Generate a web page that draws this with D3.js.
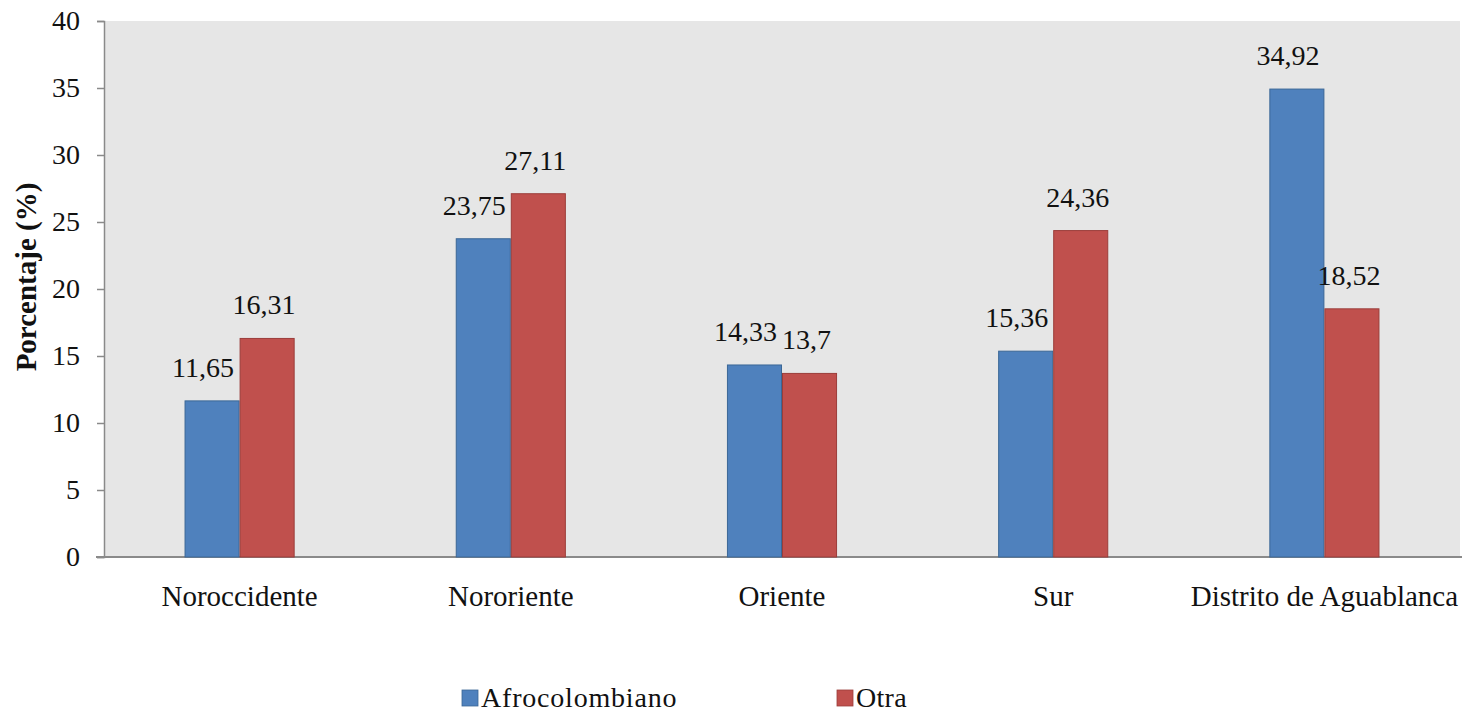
<!DOCTYPE html>
<html>
<head>
<meta charset="utf-8">
<script src="https://cdn.jsdelivr.net/npm/d3@7"></script>
<style>
  html, body { margin: 0; padding: 0; background: #ffffff; }
  svg { display: block; }
  svg text { font-family: "Liberation Serif", Tinos, "Times New Roman", Times, "DejaVu Serif", "Noto Serif", serif; fill: #111; }
</style>
</head>
<body>
<svg id="chart" width="1466" height="712"></svg>
<script>
const categories = ["Noroccidente", "Nororiente", "Oriente", "Sur", "Distrito de Aguablanca"];
const seriesNames = ["Afrocolombiano", "Otra"];
const afroValues = [11.65, 23.75, 14.33, 15.36, 34.92];
const otraValues = [16.31, 27.11, 13.7, 24.36, 18.52];
const yTicks = [0, 5, 10, 15, 20, 25, 30, 35, 40];
const colors = ["#4F81BD", "#C0504D"];
const strokes = ["#3B6796", "#9B3D3A"];
const FONT = '"Liberation Serif", Tinos, "Times New Roman", Times, "DejaVu Serif", "Noto Serif", serif';

const svg = d3.select("#chart");
const plot = { left: 104, right: 1460, top: 21, bottom: 557 };

const x0 = d3.scaleBand().domain(categories).range([plot.left, plot.right])
  .paddingInner(0.594).paddingOuter(0.297);
const x1 = d3.scaleBand().domain(seriesNames).range([0, x0.bandwidth()]).padding(0);
const y = d3.scaleLinear().domain([0, 40]).range([plot.bottom, plot.top]);

svg.append("rect")
  .attr("x", plot.left).attr("y", plot.top)
  .attr("width", plot.right - plot.left).attr("height", plot.bottom - plot.top)
  .attr("fill", "#E6E6E6");

const yAxis = d3.axisLeft(y).tickValues(yTicks).tickSize(7).tickPadding(17).tickFormat(d3.format("d"));
const gy = svg.append("g").attr("transform", `translate(${plot.left},0)`).call(yAxis)
  .attr("font-family", FONT);
gy.select(".domain").attr("stroke", "#8A8A8A").attr("stroke-width", 1.5);
gy.selectAll(".tick line").attr("stroke", "#8A8A8A").attr("stroke-width", 1.5);
gy.selectAll(".tick text").attr("font-size", 28).attr("fill", "#111");

const xAxis = d3.axisBottom(x0).tickSize(0).tickPadding(28);
const gx = svg.append("g").attr("transform", `translate(0,${plot.bottom})`).call(xAxis)
  .attr("font-family", FONT);
gx.select(".domain").attr("stroke", "#8A8A8A").attr("stroke-width", 2).attr("d", `M${plot.left - 8},0H${plot.right + 2}`);
gx.selectAll(".tick text").attr("font-size", 29).attr("fill", "#111").attr("dy", "0.71em");

const data = categories.map((c, i) => ({ cat: c, vals: [afroValues[i], otraValues[i]] }));
const groups = svg.append("g").attr("font-family", FONT).selectAll("g").data(data).join("g")
  .attr("transform", d => `translate(${x0(d.cat)},0)`);

const fmt = v => String(v).replace(".", ",");
const labelShift = [-9, -3];

groups.each(function(d) {
  const g = d3.select(this);
  d.vals.forEach((v, si) => {
    const bx = x1(seriesNames[si]);
    g.append("rect")
      .attr("x", bx + 0.5).attr("y", y(v))
      .attr("width", x1.bandwidth() - 1).attr("height", y(0) - y(v))
      .attr("fill", colors[si]).attr("stroke", strokes[si]).attr("stroke-width", 1);
    g.append("text")
      .attr("x", bx + x1.bandwidth() / 2 + labelShift[si])
      .attr("y", y(v) - 24)
      .attr("text-anchor", "middle")
      .attr("font-size", 28)
      .text(fmt(v));
  });
});

svg.append("text")
  .attr("transform", `translate(36,${(plot.top + plot.bottom) / 2 - 12}) rotate(-90)`)
  .attr("text-anchor", "middle")
  .attr("font-size", 29)
  .attr("font-weight", "bold")
  .attr("font-family", FONT)
  .text("Porcentaje (%)");

const legendItems = [{ name: seriesNames[0], x: 462 }, { name: seriesNames[1], x: 837 }];
legendItems.forEach((it, i) => {
  svg.append("rect").attr("x", it.x).attr("y", 690).attr("width", 16).attr("height", 16)
    .attr("fill", colors[i]).attr("stroke", strokes[i]).attr("stroke-width", 0.8);
  svg.append("text").attr("x", it.x + 19).attr("y", 707).attr("font-family", FONT)
    .attr("font-size", 28).attr("letter-spacing", i === 0 ? 0.8 : 0.3).text(it.name);
});
</script>
</body>
</html>
